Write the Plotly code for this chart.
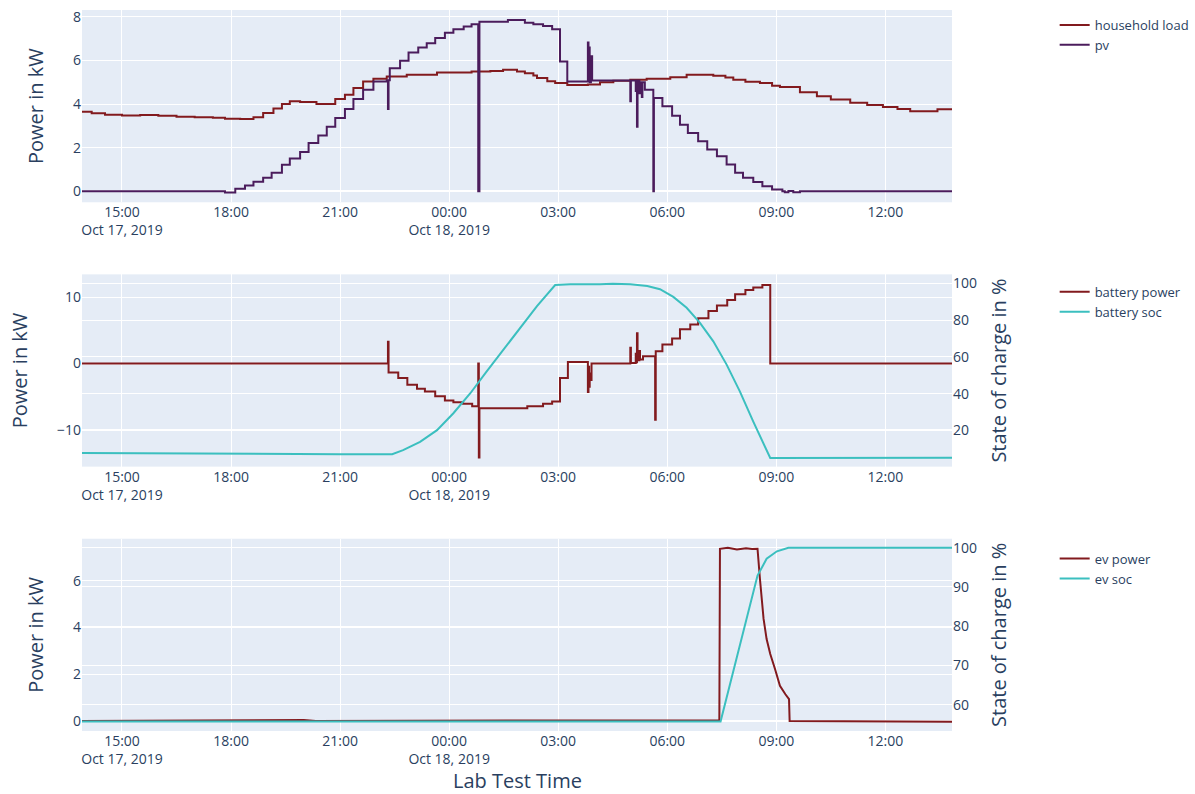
import pandas as pd
import plotly.graph_objects as go
from plotly.subplots import make_subplots

def ts(lst):
    return pd.to_datetime(["2019-10-" + s for s in lst])

# ---------------- household load ----------------
hh_t = ["17 13:54", "17 14:10", "17 14:32", "17 15:00", "17 15:30", "17 16:00", "17 16:30", "17 17:00",
        "17 17:30", "17 17:50", "17 18:15", "17 18:37", "17 18:53", "17 19:10", "17 19:24", "17 19:37",
        "17 19:54", "17 20:21", "17 20:52", "17 21:08", "17 21:22", "17 21:38", "17 21:55", "17 22:17",
        "17 22:50", "17 23:40", "18 00:37", "18 01:08", "18 01:29", "18 01:52", "18 02:05", "18 02:19",
        "18 02:25", "18 02:42", "18 02:55", "18 03:15", "18 03:49", "18 04:09", "18 04:31", "18 04:59",
        "18 05:26", "18 06:05", "18 06:32", "18 07:16", "18 07:36", "18 07:49", "18 08:09", "18 08:33",
        "18 08:53", "18 09:06", "18 09:39", "18 10:07", "18 10:30", "18 11:02", "18 11:30", "18 11:56",
        "18 12:20", "18 12:41", "18 13:02", "18 13:26", "18 13:50"]
hh_v = [3.65, 3.58, 3.52, 3.48, 3.50, 3.47, 3.42, 3.40,
        3.38, 3.33, 3.32, 3.40, 3.60, 3.80, 4.01, 4.13,
        4.10, 4.01, 4.24, 4.43, 4.74, 5.04, 5.17, 5.27,
        5.35, 5.45, 5.50, 5.52, 5.58, 5.50, 5.42, 5.32,
        5.20, 5.05, 4.97, 4.88, 4.90, 5.00, 5.07, 5.12,
        5.17, 5.24, 5.35, 5.30, 5.22, 5.12, 5.03, 4.97,
        4.85, 4.79, 4.55, 4.36, 4.22, 4.06, 3.96, 3.87,
        3.78, 3.68, 3.67, 3.77, 3.78]

# ---------------- pv ----------------
pv_t = ["17 13:54", "17 17:50", "17 18:07", "17 18:23", "17 18:37", "17 18:53", "17 19:07", "17 19:24",
        "17 19:37", "17 19:54", "17 20:08", "17 20:24", "17 20:38", "17 20:52", "17 21:08", "17 21:22",
        "17 21:38", "17 21:55", "17 22:17", "17 22:19", "17 22:20", "17 22:22", "17 22:39", "17 22:53",
        "17 23:09", "17 23:23", "17 23:37", "17 23:53", "18 00:07", "18 00:24", "18 00:37", "18 00:48",
        "18 00:50", "18 01:37", "18 02:05", "18 02:19", "18 02:35", "18 02:50", "18 03:03", "18 03:15",
        "18 03:49", "18 03:50", "18 03:51", "18 03:52", "18 03:54", "18 03:56", "18 04:59", "18 05:00",
        "18 05:08", "18 05:09", "18 05:10", "18 05:11", "18 05:14", "18 05:15", "18 05:18", "18 05:19",
        "18 05:23", "18 05:37", "18 05:38", "18 05:52", "18 06:08", "18 06:21", "18 06:34", "18 06:51",
        "18 07:06", "18 07:22", "18 07:38", "18 07:52", "18 08:05", "18 08:22", "18 08:37", "18 08:53",
        "18 09:10", "18 09:14", "18 09:20", "18 09:28", "18 09:39", "18 13:50"]
pv_v = [0.0, -0.05, 0.12, 0.27, 0.44, 0.62, 0.85, 1.22,
        1.51, 1.81, 2.22, 2.56, 2.96, 3.37, 3.78, 4.24,
        4.66, 5.04, 5.10, 3.78, 5.10, 5.65, 5.99, 6.37,
        6.60, 6.80, 7.03, 7.28, 7.44, 7.56, 7.67, 0.0,
        7.78, 7.86, 7.74, 7.67, 7.59, 7.44, 5.96, 5.04,
        6.83, 5.20, 6.60, 5.00, 6.20, 5.09, 4.13, 5.09,
        4.60, 5.00, 2.96, 5.09, 4.50, 5.00, 4.33, 5.00,
        4.66, 0.0, 4.28, 3.90, 3.47, 3.06, 2.68, 2.30,
        1.92, 1.61, 1.23, 0.85, 0.62, 0.43, 0.24, 0.09,
        0.0, -0.04, 0.02, -0.04, 0.0, 0.0]

# ---------------- battery power ----------------
bp_t = ["17 13:54", "17 22:19", "17 22:20", "17 22:36", "17 22:51", "17 23:07", "17 23:20", "17 23:37",
        "17 23:53", "18 00:07", "18 00:23", "18 00:38", "18 00:48", "18 00:49", "18 00:50", "18 02:09",
        "18 02:35", "18 02:50", "18 03:03", "18 03:16", "18 03:49", "18 03:50", "18 03:51", "18 03:52",
        "18 03:53", "18 03:55", "18 04:59", "18 05:00", "18 05:08", "18 05:09", "18 05:10", "18 05:11",
        "18 05:14", "18 05:15", "18 05:20", "18 05:40", "18 05:41", "18 05:52", "18 06:08", "18 06:21",
        "18 06:38", "18 06:51", "18 07:08", "18 07:22", "18 07:39", "18 07:52", "18 08:09", "18 08:22",
        "18 08:37", "18 08:50", "18 13:50"]
bp_v = [0.0, 3.3, -1.37, -2.19, -3.2, -3.8, -4.21, -4.93,
        -5.59, -5.84, -6.09, -6.45, 0.0, -14.2, -6.75, -6.45,
        -6.09, -5.74, -2.19, 0.25, -4.3, -0.5, -3.5, -1.5,
        -2.5, 0.0, 2.4, 0.1, 1.5, 0.2, 4.6, 0.5,
        1.9, 0.6, 1.1, -8.5, 1.87, 2.9, 3.8, 5.2,
        5.93, 6.85, 7.96, 8.77, 9.63, 10.5, 11.15, 11.5,
        11.9, 0.0, 0.0]

# ---------------- battery soc ----------------
bs_t = ["17 13:54", "17 16:00", "17 18:00", "17 21:00", "17 22:26", "17 22:44", "17 23:12", "17 23:40",
        "18 00:07", "18 00:35", "18 01:02", "18 01:30", "18 01:57", "18 02:25", "18 02:55", "18 03:20",
        "18 04:09", "18 04:30", "18 04:59", "18 05:27", "18 05:48", "18 06:10", "18 06:32", "18 06:54",
        "18 07:16", "18 07:38", "18 08:00", "18 08:22", "18 08:50", "18 12:36", "18 12:41", "18 13:50"]
bs_v = [7.7, 7.4, 7.2, 6.9, 7.0, 9.2, 13.7, 20.1,
        29.3, 40.2, 52.1, 64.0, 75.9, 87.7, 99.2, 99.6,
        99.6, 99.9, 99.6, 98.7, 96.9, 92.7, 86.8, 78.6,
        68.5, 55.8, 41.1, 24.7, 4.9, 4.9, 5.1, 5.1]

# ---------------- ev power ----------------
ep_t = ["17 13:54", "17 18:30", "17 19:00", "17 19:20", "17 19:40", "17 20:00", "17 20:20", "18 07:26",
        "18 07:27", "18 07:40", "18 07:55", "18 08:10", "18 08:20", "18 08:29", "18 08:33", "18 08:39",
        "18 08:44", "18 08:50", "18 08:58", "18 09:06", "18 09:15", "18 09:21", "18 09:22", "18 13:00",
        "18 13:01", "18 13:50"]
ep_v = [0.0, 0.04, 0.02, 0.05, 0.03, 0.04, 0.0, 0.03,
        7.36, 7.40, 7.33, 7.38, 7.35, 7.36, 6.07, 4.36,
        3.50, 2.86, 2.21, 1.50, 1.14, 0.93, 0.0, 0.0,
        -0.03, -0.03]

# ---------------- ev soc ----------------
es_t = ["17 13:54", "18 07:28", "18 08:29", "18 08:44", "18 09:01", "18 09:20", "18 13:50"]
es_v = [55.7, 55.7, 92.9, 97.2, 99.1, 100.0, 100.0]

RED = "#821a1e"
PURPLE = "#4b1c5c"
TEAL = "#3bbfbf"

fig = make_subplots(rows=3, cols=1, vertical_spacing=0.1,
                    specs=[[{"secondary_y": False}], [{"secondary_y": True}], [{"secondary_y": True}]])

fig.add_trace(go.Scatter(x=ts(hh_t), y=hh_v, name="household load", mode="lines", line_shape="hv",
                         line=dict(color=RED, width=2), legendgroup="1"), row=1, col=1)
fig.add_trace(go.Scatter(x=ts(pv_t), y=pv_v, name="pv", mode="lines", line_shape="hv",
                         line=dict(color=PURPLE, width=2), legendgroup="1"), row=1, col=1)
fig.add_trace(go.Scatter(x=ts(bp_t), y=bp_v, name="battery power", mode="lines", line_shape="hv",
                         line=dict(color=RED, width=2), legendgroup="2"), row=2, col=1, secondary_y=False)
fig.add_trace(go.Scatter(x=ts(bs_t), y=bs_v, name="battery soc", mode="lines",
                         line=dict(color=TEAL, width=2), legendgroup="2"), row=2, col=1, secondary_y=True)
fig.add_trace(go.Scatter(x=ts(ep_t), y=ep_v, name="ev power", mode="lines",
                         line=dict(color=RED, width=2), legendgroup="3"), row=3, col=1, secondary_y=False)
fig.add_trace(go.Scatter(x=ts(es_t), y=es_v, name="ev soc", mode="lines",
                         line=dict(color=TEAL, width=2), legendgroup="3"), row=3, col=1, secondary_y=True)

tf = dict(size=14)
ttl = dict(size=20)
fig.update_xaxes(tickfont=tf, domain=[0, 1])
fig.update_yaxes(tickfont=tf)
fig.update_yaxes(title_text="Power in kW", title_font=ttl, title_standoff=23, range=[-0.5, 8.32], row=1, col=1)
fig.update_yaxes(title_text="Power in kW", title_font=ttl, title_standoff=23, range=[-15.6, 13.5], row=2, col=1, secondary_y=False)
fig.update_yaxes(title_text="State of charge in %", title_font=ttl, range=[0.2, 105], row=2, col=1, secondary_y=True)
fig.update_yaxes(title_text="Power in kW", title_font=ttl, title_standoff=23, range=[-0.43, 7.79], row=3, col=1, secondary_y=False)
fig.update_yaxes(title_text="State of charge in %", title_font=ttl, range=[53.3, 102.3], row=3, col=1, secondary_y=True)

fig.update_layout(
    width=1195, height=794,
    template="plotly",
    margin=dict(l=82, r=243, t=10, b=63, autoexpand=False),
    legend=dict(x=1.118, y=1.0, xanchor="left", yanchor="top",
                tracegroupgap=227, font=dict(size=13)),
)
fig.add_annotation(text="Lab Test Time", xref="paper", yref="paper", x=0.5, y=-0.069,
                   xanchor="center", yanchor="middle", showarrow=False,
                   font=dict(size=20, color="#2a3f5f"))

fig.write_html("out.html")
